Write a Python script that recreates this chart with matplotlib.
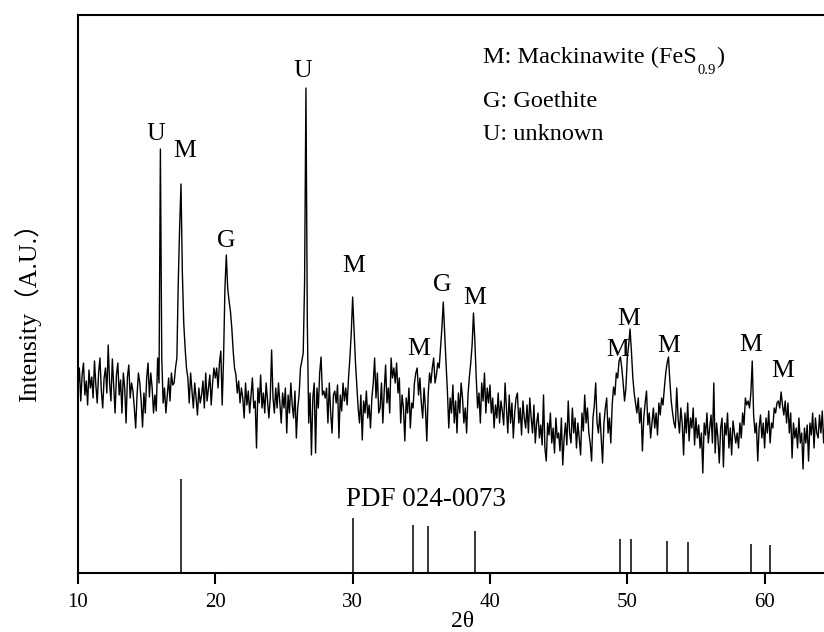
import numpy as np
import matplotlib
matplotlib.use("Agg")
import matplotlib.pyplot as plt

plt.rcParams['font.family'] = ['Liberation Serif', 'DejaVu Serif']

# ---- data ----
theta_start = 10.0
theta_step = 0.1
intensity = [
    185, 205, 172, 198, 210, 178, 192, 168, 203, 185,   # 10
    196, 175, 212, 188, 170, 200, 215, 182, 165, 195,   # 11
    205, 180, 228, 190, 172, 214, 186, 160, 198, 210,   # 12
    178, 193, 160, 200, 185, 150, 196, 208, 175, 190,   # 13
    182, 165, 145, 178, 200, 190, 172, 146, 180, 160,   # 14
    195, 210, 176, 200, 185, 160, 178, 162, 215, 190,   # 15
    424, 215, 170, 185, 160, 178, 195, 172, 200, 188,   # 16
    190, 205, 215, 290, 345, 389, 300, 250, 225, 205,   # 17
    195, 170, 200, 182, 165, 190, 175, 158, 185, 170,   # 18
    178, 192, 165, 200, 172, 185, 198, 168, 190, 205,   # 19
    195, 205, 185, 210, 222, 168, 215, 285, 318, 285,   # 20
    272, 262, 245, 222, 205, 198, 180, 192, 170, 185,   # 21
    175, 155, 190, 168, 182, 160, 178, 195, 165, 172,   # 22
    125, 185, 170, 198, 165, 180, 160, 190, 172, 155,   # 23
    175, 223, 175, 160, 185, 165, 190, 170, 150, 180,   # 24
    165, 185, 140, 178, 160, 190, 168, 155, 182, 135,   # 25
    165, 178, 205, 212, 220, 290, 485, 250, 150, 180,   # 26
    118, 175, 190, 120, 185, 165, 200, 216, 178, 182,   # 27
    175, 185, 150, 190, 160, 140, 178, 182, 170, 188,   # 28
    135, 178, 162, 190, 172, 185, 168, 195, 215, 240,   # 29
    276, 245, 212, 188, 165, 150, 178, 133, 172, 160,   # 30
    182, 155, 168, 145, 175, 190, 215, 175, 200, 160,   # 31
    165, 190, 150, 182, 208, 170, 185, 160, 215, 195,   # 32
    205, 190, 210, 180, 195, 150, 178, 165, 132, 175,   # 33
    160, 185, 145, 170, 165, 190, 200, 205, 178, 195,   # 34
    170, 155, 185, 165, 132, 178, 200, 190, 205, 215,   # 35
    190, 198, 210, 205, 225, 245, 271, 240, 210, 182,   # 36
    145, 175, 160, 188, 150, 172, 140, 180, 160, 190,   # 37
    175, 150, 165, 140, 178, 196, 210, 228, 260, 232,   # 38
    195, 165, 180, 150, 190, 172, 200, 160, 185, 170,   # 39
    188, 160, 175, 145, 168, 155, 180, 150, 172, 162,   # 40
    148, 190, 165, 140, 178, 150, 170, 135, 160, 175,   # 41
    180, 150, 165, 138, 172, 155, 145, 168, 140, 175,   # 42
    155, 140, 168, 130, 150, 160, 135, 148, 128, 178,   # 43
    125, 112, 150, 138, 160, 130, 145, 120, 155, 135,   # 44
    140, 122, 155, 108, 135, 150, 128, 172, 140, 130,   # 45
    165, 140, 155, 125, 150, 135, 118, 160, 142, 178,   # 46
    150, 165, 140, 130, 112, 155, 168, 190, 150, 140,   # 47
    160, 135, 110, 150, 165, 175, 140, 155, 130, 168,   # 48
    186, 178, 200, 195, 212, 216, 205, 190, 172, 185,   # 49
    215, 228, 244, 222, 196, 180, 170, 160, 175, 150,   # 50
    165, 122, 155, 170, 182, 148, 160, 135, 150, 165,   # 51
    145, 160, 138, 170, 158, 175, 168, 185, 200, 210,   # 52
    216, 192, 172, 160, 150, 145, 185, 155, 140, 165,   # 53
    150, 118, 160, 140, 170, 132, 155, 145, 165, 128,   # 54
    155, 135, 148, 125, 140, 100, 150, 138, 160, 130,   # 55
    145, 158, 130, 190, 120, 150, 135, 110, 145, 155,   # 56
    106, 150, 138, 160, 125, 145, 118, 152, 140, 130,   # 57
    140, 125, 150, 135, 160, 148, 175, 168, 172, 165,   # 58
    180, 212, 158, 140, 150, 112, 145, 158, 135, 150,   # 59
    125, 155, 140, 162, 130, 150, 145, 165, 160, 170,   # 60
    172, 165, 181, 168, 158, 172, 150, 170, 140, 160,   # 61
    115, 150, 135, 145, 125, 155, 130, 140, 104, 145,   # 62
    130, 148, 112, 150, 138, 160, 125, 155, 140, 135,   # 63
    158, 140, 162, 130, 150,                            # 64
]

pdf_pos = [17.5, 30.0, 34.4, 35.5, 38.9, 49.45, 50.25, 52.9, 54.45, 59.0, 60.4]
pdf_height = [94, 55, 48, 47, 42, 34, 34, 32, 31, 29, 28]

peak_labels = ['U', 'M', 'G', 'U', 'M', 'M', 'G', 'M', 'M', 'M', 'M', 'M', 'M']
peak_label_x = [15.7, 17.8, 20.8, 26.4, 30.1, 34.8, 36.5, 38.9, 49.3, 50.1, 53.0, 59.0, 61.3]
peak_label_y = [433, 416, 326, 496, 301, 218, 282, 269, 217, 248, 221, 222, 196]

legend_main = ['M: Mackinawite (FeS', 'G: Goethite', 'U: unknown']
legend_sub = '0.9'
xticks = [10, 20, 30, 40, 50, 60]

# ---- figure ----
W, H = 824, 632
fig = plt.figure(figsize=(W / 100, H / 100), dpi=100)
ax_left, ax_right_px, ax_top, ax_bottom = 78, 847, 15, 573
ax = fig.add_axes([ax_left / W, 1 - ax_bottom / H,
                   (ax_right_px - ax_left) / W, (ax_bottom - ax_top) / H])

theta = theta_start + theta_step * np.arange(len(intensity))
ax.plot(theta, intensity, color='black', lw=1.0)
ax.vlines(pdf_pos, 0, pdf_height, color='black', lw=1.1)

ax.set_xlim(10, 66.0)
ax.set_ylim(0, 558)

for s in ['left', 'top', 'bottom']:
    ax.spines[s].set_linewidth(1.5)
ax.spines['right'].set_visible(False)
ax.set_yticks([])
ax.set_xticks(xticks)
ax.tick_params(axis='x', direction='out', length=8, width=1.5, pad=6.5, labelsize=15)

for t, x, y in zip(peak_labels, peak_label_x, peak_label_y):
    ax.text(x, y, t, fontsize=18.5, ha='center', va='baseline')

leg_x = 10 + (483 - 78) / 13.73
leg_y = [510, 466, 433]
texts = []
for line, y in zip(legend_main, leg_y):
    texts.append(ax.text(leg_x, y, line, fontsize=17.5, ha='left', va='baseline'))
t1 = texts[0]
t_sub = ax.annotate(legend_sub, xy=(1, 0), xycoords=t1, xytext=(0.5, -4.6),
                    textcoords='offset points', fontsize=10.5, ha='left', va='baseline')
ax.annotate(')', xy=(1, 0), xycoords=(t_sub, t1), xytext=(0, 0),
            textcoords='offset points', fontsize=17.5, ha='left', va='bottom')

ax.text(10 + (346 - 78) / 13.73, 67, 'PDF 024-0073', fontsize=19.5, ha='left', va='baseline')

ax.set_xlabel('2θ', fontsize=17)
ax.xaxis.set_label_coords(0.5, -(627 - 573) / (573 - 15))
ax.xaxis.label.set_va('baseline')

fig.text(28 / W, 1 - 306 / H, 'Intensity（A.U.）', rotation=90, ha='center', va='center',
         fontsize=18.5, family=['Liberation Serif', 'Noto Sans CJK SC'])

fig.savefig('out.png', dpi=100)
